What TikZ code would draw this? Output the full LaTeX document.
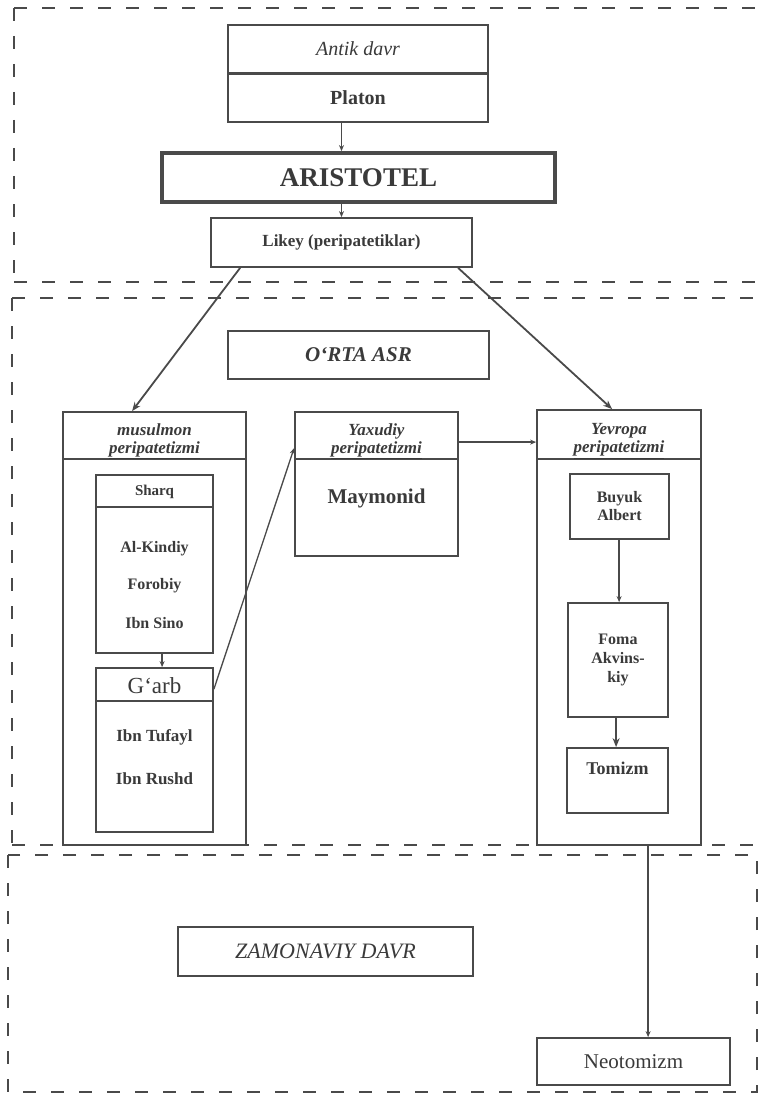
\documentclass[tikz,border=0pt]{standalone}
\usepackage{fontspec}
\setmainfont{Liberation Serif}
\usetikzlibrary{calc,arrows.meta}
\definecolor{ink}{HTML}{4A4A4A}
\definecolor{txt}{HTML}{3A3A3A}
\begin{document}
\begin{tikzpicture}[x=1pt,y=-1pt,
  box/.style={draw=ink,line width=1.8pt,rectangle,inner sep=0pt,text=txt,align=center},
  frame/.style={draw=ink,line width=2.8pt,dash pattern=on 13pt off 15pt},
  arr/.style={draw=ink,line width=1.3pt,-{Stealth[length=6pt,width=5pt]}},
  bigarr/.style={draw=ink,line width=1.8pt,-{Stealth[length=9pt,width=7pt]}},
  lbl/.style={text=txt,inner sep=0pt,align=center},
  hdr/.style={lbl,font={\fontsize{17}{19}\selectfont\bfseries\itshape}}]
\useasboundingbox (0,0) rectangle (762,1094);
\clip (0,0) rectangle (762,1094);
\fill[white] (0,0) rectangle (762,1094);
% dashed frames
\draw[frame] (14,8) -- (780,8);
\draw[frame] (14,8) -- (14,282);
\draw[frame] (14,282) -- (780,282);
\draw[frame] (12,298) -- (780,298);
\draw[frame] (12,298) -- (12,845);
\draw[frame] (12,845) -- (780,845);
\draw[frame] (8,855) rectangle (757,1092);
% section 1
\node[box,minimum width=260pt,minimum height=48pt,font={\fontsize{20}{24}\selectfont\itshape}] (antik) at (358,49) {Antik davr};
\node[box,minimum width=260pt,minimum height=48pt,font={\fontsize{20}{24}\selectfont\bfseries}] (platon) at (358,98) {Platon};
\node[box,line width=3.8pt,minimum width=393pt,minimum height=49pt,font={\fontsize{27}{30}\selectfont\bfseries}] (arist) at (358.5,177.5) {ARISTOTEL};
\node[box,minimum width=261pt,minimum height=49pt,font={\fontsize{17}{20}\selectfont\bfseries}] (likey) at (341.5,242.5) {Likey (peripatetiklar)};
\draw[arr] (platon.south -| likey.north) -- (arist.north -| likey.north);
\draw[arr] (arist.south -| likey.north) -- (likey.north);
% section 2
\node[box,minimum width=261pt,minimum height=48pt,font={\fontsize{21}{24}\selectfont\bfseries\itshape}] (orta) at (358.5,355) {O‘RTA ASR};
% musulmon
\node[box,minimum width=183pt,minimum height=433pt] (mus) at (154.5,628.5) {};
\draw[ink,line width=1.5pt] (mus.west |- 0,459) -- (mus.east |- 0,459);
\node[hdr] (mustxt) at (154.5,441) {musulmon\\[-1pt]\underline{peripatetizmi}};
\node[box,minimum width=117pt,minimum height=178pt] (sharq) at (154.5,564) {};
\draw[ink,line width=1.5pt] (sharq.west |- 0,507) -- (sharq.east |- 0,507);
\node[lbl,font={\fontsize{15}{18}\selectfont\bfseries}] (sharqtxt) at (154.5,492) {Sharq};
\node[lbl,font={\fontsize{16}{18}\selectfont\bfseries}] (kindiy) at (154.5,549) {Al-Kindiy};
\node[lbl,font={\fontsize{16}{18}\selectfont\bfseries}] (forobiy) at (154.5,586) {Forobiy};
\node[lbl,font={\fontsize{16}{18}\selectfont\bfseries}] (sino) at (154.5,623) {Ibn Sino};
\node[box,minimum width=117pt,minimum height=164pt] (garb) at (154.5,750) {};
\draw[ink,line width=1.5pt] (garb.west |- 0,701) -- (garb.east |- 0,701);
\node[lbl,font={\fontsize{23}{26}\selectfont}] (garbtxt) at (154.5,686) {G‘arb};
\node[lbl,font={\fontsize{17}{19}\selectfont\bfseries}] (tufayl) at (154.5,737) {Ibn Tufayl};
\node[lbl,font={\fontsize{17}{19}\selectfont\bfseries}] (rushd) at (154.5,779) {Ibn Rushd};
% yaxudiy
\node[box,minimum width=163pt,minimum height=144pt] (yax) at (376.5,484) {};
\draw[ink,line width=1.5pt] (yax.west |- 0,459) -- (yax.east |- 0,459);
\node[hdr] (yaxtxt) at (376.5,441) {Yaxudiy\\[-1pt]\underline{peripatetizmi}};
\node[lbl,font={\fontsize{21}{24}\selectfont\bfseries}] (maymonid) at (376.5,498) {Maymonid};
% yevropa
\node[box,minimum width=164pt,minimum height=435pt] (yev) at (619,627.5) {};
\draw[ink,line width=1.5pt] (yev.west |- 0,459) -- (yev.east |- 0,459);
\node[hdr] (yevtxt) at (619,441) {Yevropa\\[-1pt]\underline{peripatetizmi}};
\node[box,minimum width=99pt,minimum height=65pt,font={\fontsize{16}{18}\selectfont\bfseries}] (buyuk) at (619.5,506.5) {Buyuk\\Albert};
\node[box,minimum width=100pt,minimum height=114pt,font={\fontsize{16}{19}\selectfont\bfseries}] (foma) at (618,660) {Foma\\Akvins-\\kiy};
\node[box,minimum width=101pt,minimum height=65pt] (tomizm) at (617.5,780.5) {};
\node[lbl,font={\fontsize{18}{20}\selectfont\bfseries}] (tomtxt) at (617.5,768) {Tomizm};
% section 2 connectors
\draw[bigarr] ($(likey.south west)+(30,0)$) -- ($(mus.north west)+(70,0)$);
\draw[bigarr] ($(likey.south west)+(248,0)$) -- ($(yev.north west)+(76,0)$);
\draw[arr] ($(sharq.south west)+(67,0)$) -- ($(garb.north west)+(67,0)$);
\draw[arr] ($(garb.north east)+(0,22)$) -- ($(yax.north west)+(0,37)$);
\draw[arr] ($(yax.north east)+(0,31)$) -- ($(yev.north west)+(0,33)$);
\draw[arr] ($(buyuk.south west)+(50,0)$) -- ($(foma.north west)+(52,0)$);
\draw[bigarr] ($(foma.south west)+(49,0)$) -- ($(tomizm.north west)+(50,0)$);
% section 3
\node[box,minimum width=295pt,minimum height=49pt,font={\fontsize{22}{25}\selectfont\itshape}] (zam) at (325.5,951.5) {ZAMONAVIY DAVR};
\node[box,minimum width=193pt,minimum height=47pt,font={\fontsize{21}{24}\selectfont}] (neo) at (633.5,1061.5) {Neotomizm};
\draw[arr] ($(yev.south west)+(112,0)$) -- ($(neo.north west)+(112,0)$);
\end{tikzpicture}
\end{document}
